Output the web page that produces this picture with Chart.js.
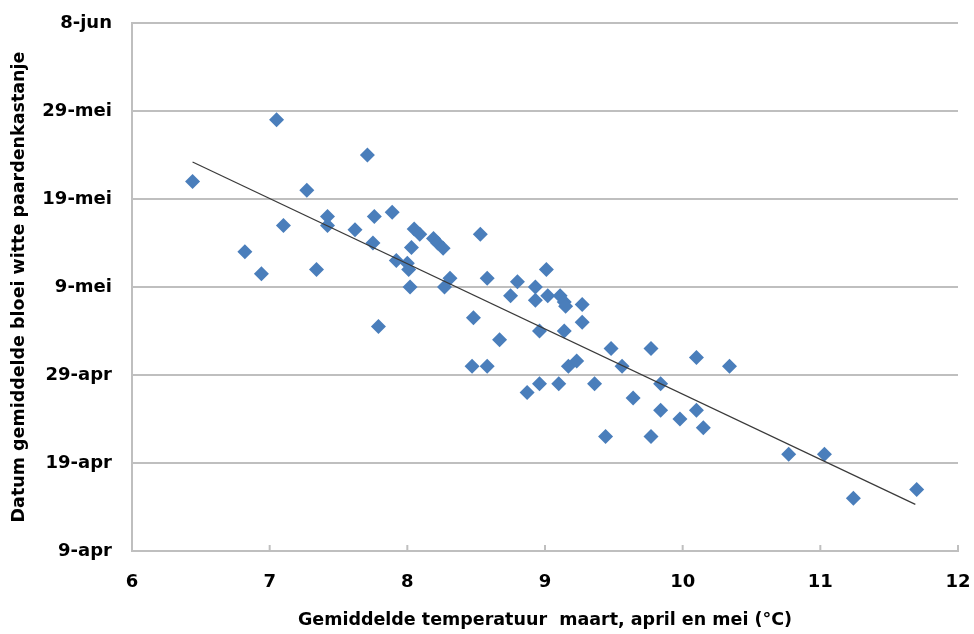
<!DOCTYPE html>
<html>
<head>
<meta charset="utf-8">
<script src="https://cdn.jsdelivr.net/npm/chart.js@4/dist/chart.umd.min.js"></script>
<style>
    html, body { margin: 0; padding: 0; background: #ffffff; }
    .chart-wrap { position: relative; width: 974px; height: 634px; }
</style>
</head>
<body>
<div class="chart-wrap">
    <canvas id="chart-scatter" width="974" height="634"></canvas>
</div>
<script>
// gemiddelde temperatuur maart-mei (°C)
const temps = [
    6.44, 7.05, 6.82, 6.94, 7.10, 7.27, 7.34, 7.42, 7.42, 7.71,
    7.62, 7.76, 7.75, 7.79, 7.89, 7.92, 8.00, 8.01, 8.02, 8.03,
    8.05, 8.09, 8.19, 8.22, 8.26, 8.27, 8.31, 8.53, 8.58, 8.48,
    8.47, 8.58, 8.67, 8.75, 8.80, 8.87, 8.93, 8.93, 8.96, 8.96,
    9.01, 9.02, 9.10, 9.11, 9.14, 9.15, 9.14, 9.17, 9.23, 9.27,
    9.27, 9.36, 9.44, 9.48, 9.56, 9.64, 9.77, 9.77, 9.84, 9.84,
    9.98, 10.10, 10.10, 10.15, 10.34, 10.77, 11.03, 11.24, 11.70
];

// bloeidatum, dagen na 9 april
const bloomDays = [
    42, 49, 34, 31.5, 37, 41, 32, 38, 37, 45,
    36.5, 38, 35, 25.5, 38.5, 33, 32.7, 32, 30, 34.5,
    36.6, 36, 35.5, 35, 34.4, 30, 31, 36, 31, 26.5,
    21, 21, 24, 29, 30.6, 18, 30, 28.5, 25, 19,
    32, 29, 19, 29, 28.3, 27.8, 25, 21, 21.6, 28,
    26, 19, 13, 23, 21, 17.4, 23, 13, 19, 16,
    15, 22, 16, 14, 21, 11, 11, 6, 7
];

// trendlijn (begin- en eindpunt)
const trendTemps = [6.44, 11.69];
const trendDays = [44.2, 5.3];

const dateLabels = ['9-apr', '19-apr', '29-apr', '9-mei', '19-mei', '29-mei', '8-jun'];
const tempTicks = [6, 7, 8, 9, 10, 11, 12];

const tickFont = { family: "'DejaVu Sans', sans-serif", size: 18, weight: 'bold' };
const titleFont = { family: "'DejaVu Sans', sans-serif", size: 17.5, weight: 'bold' };
const axisGrey = '#bfbfbf';

// kleine tickstreepjes naar binnen op de x-as, zoals in Excel
const innerTicks = {
    id: 'innerTicks',
    afterDraw(chart) {
        const { ctx, scales: { x, y } } = chart;
        const base = y.getPixelForValue(0);
        ctx.save();
        ctx.strokeStyle = axisGrey;
        ctx.lineWidth = 2;
        tempTicks.forEach(t => {
            const px = x.getPixelForValue(t);
            ctx.beginPath();
            ctx.moveTo(px, base);
            ctx.lineTo(px, base - 6);
            ctx.stroke();
        });
        ctx.restore();
    }
};

const ctx = document.getElementById('chart-scatter').getContext('2d');

new Chart(ctx, {
    type: 'scatter',
    data: {
        datasets: [
            {
                label: 'Bloei',
                data: temps.map((t, i) => ({ x: t, y: bloomDays[i] })),
                pointStyle: 'rectRot',
                pointRadius: 7.5,
                pointBorderWidth: 0,
                backgroundColor: '#4a7ebb',
                borderColor: '#4a7ebb',
                order: 2,
            },
            {
                type: 'line',
                label: 'Trend',
                data: trendTemps.map((t, i) => ({ x: t, y: trendDays[i] })),
                borderColor: '#3a3a3a',
                borderWidth: 1.2,
                pointRadius: 0,
                fill: false,
                order: 1,
            },
        ],
    },
    options: {
        responsive: false,
        animation: false,
        layout: { padding: { top: 23, right: 16, left: 0, bottom: 0 } },
        plugins: {
            legend: { display: false },
            tooltip: { enabled: false },
        },
        scales: {
            x: {
                type: 'linear',
                min: 6,
                max: 12,
                afterBuildTicks: scale => { scale.ticks = tempTicks.map(v => ({ value: v })); },
                afterFit: scale => {
                    scale.height = 83;
                    scale.paddingLeft = 0;
                    scale.paddingRight = 0;
                },
                grid: { drawOnChartArea: false, drawTicks: false },
                border: { color: axisGrey, width: 2 },
                ticks: { color: '#000', font: tickFont, padding: 21 },
                title: {
                    display: true,
                    text: 'Gemiddelde temperatuur  maart, april en mei (°C)',
                    color: '#000',
                    font: titleFont,
                    padding: { top: 6, bottom: 3 },
                },
            },
            y: {
                min: 0,
                max: 60,
                afterFit: scale => {
                    scale.width = 132;
                    scale.paddingTop = 0;
                    scale.paddingBottom = 0;
                },
                grid: { color: axisGrey, lineWidth: 2, drawTicks: false },
                border: { color: axisGrey, width: 2 },
                ticks: {
                    stepSize: 10,
                    color: '#000',
                    font: tickFont,
                    padding: 20,
                    callback: value => dateLabels[value / 10],
                },
                title: {
                    display: true,
                    text: 'Datum gemiddelde bloei witte paardenkastanje',
                    color: '#000',
                    font: titleFont,
                    padding: { top: 9, bottom: 0 },
                },
            },
        },
    },
    plugins: [innerTicks],
});
</script>
</body>
</html>
